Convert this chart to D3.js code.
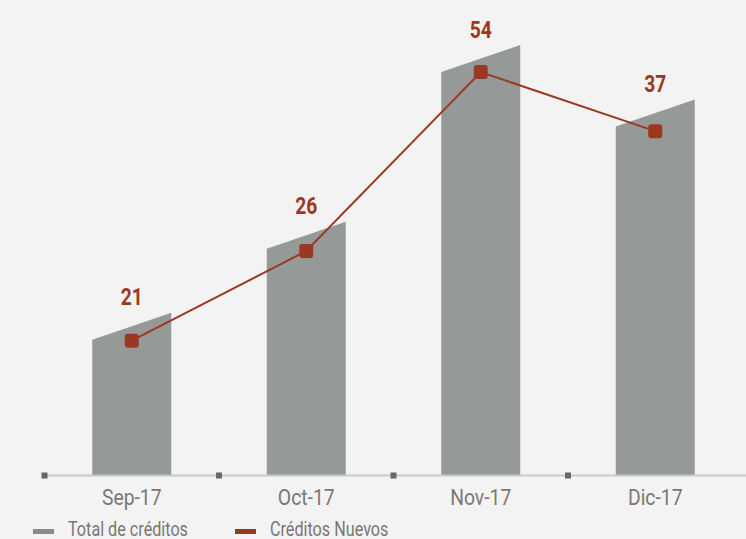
<!DOCTYPE html>
<html>
<head>
<meta charset="utf-8">
<script src="https://cdn.jsdelivr.net/npm/d3@7"></script>
<style>
  html, body { margin: 0; padding: 0; background: #f3f3f3; }
  svg { display: block; }
  text { font-family: "Roboto", "Liberation Sans", sans-serif; }
</style>
</head>
<body>
<div id="chart"></div>
<script>

var meses = ["Sep-17", "Oct-17", "Nov-17", "Dic-17"];
var totalCreditos = [35, 56.4, 98, 85.2];
var creditosNuevos = [31.6, 52.7, 94.8, 80.9];
var etiquetas = [21, 26, 54, 37];
var leyenda = ["Total de créditos", "Créditos Nuevos"];

var width = 746, height = 539;
var grisBarra = "#959a99", rojo = "#9b3822", grisTexto = "#7b7674";
var condensado = 0.86; // el original usa una fuente condensada

var svg = d3.select("#chart")
  .append("svg")
  .attr("width", width)
  .attr("height", height);

var x = d3.scaleBand()
  .domain(meses)
  .range([44.5, 742.5]);

var y = d3.scaleLinear()
  .domain([0, 100])
  .range([475, 50]);

var barW = 79, slant = 13.5;

function centro(d) { return x(d) + x.bandwidth() / 2; }

// barras con la parte de arriba inclinada
svg.selectAll(".bar")
  .data(meses)
  .enter().append("path")
  .attr("class", "bar")
  .attr("fill", grisBarra)
  .attr("d", function(d, i) {
    var cx = centro(d);
    var x0 = cx - barW / 2, x1 = cx + barW / 2;
    var top = y(totalCreditos[i]);
    return "M" + x0 + "," + y(0) +
      "L" + x0 + "," + (top + slant) +
      "L" + x1 + "," + (top - slant) +
      "L" + x1 + "," + y(0) + "Z";
  });

// eje
svg.append("line")
  .attr("x1", 44).attr("x2", width)
  .attr("y1", y(0) + 0.5).attr("y2", y(0) + 0.5)
  .attr("stroke", "#c9c9c9")
  .attr("stroke-width", 2);

svg.selectAll(".tick")
  .data(meses)
  .enter().append("rect")
  .attr("class", "tick")
  .attr("x", function(d) { return x(d) - 3; })
  .attr("y", y(0) - 2.5)
  .attr("width", 6).attr("height", 6)
  .attr("fill", "#666");

svg.selectAll(".mes")
  .data(meses)
  .enter().append("text")
  .attr("class", "mes")
  .attr("transform", function(d) { return "translate(" + centro(d) + ",505) scale(" + condensado + ",1)"; })
  .attr("text-anchor", "middle")
  .attr("font-size", 22.5)
  .attr("fill", grisTexto)
  .text(function(d) { return d; });

// linea de creditos nuevos
var line = d3.line()
  .x(function(d, i) { return centro(meses[i]); })
  .y(function(d) { return y(d); });

svg.append("path")
  .datum(creditosNuevos)
  .attr("fill", "none")
  .attr("stroke", rojo)
  .attr("stroke-width", 2)
  .attr("d", line);

svg.selectAll(".marker")
  .data(creditosNuevos)
  .enter().append("rect")
  .attr("class", "marker")
  .attr("x", function(d, i) { return centro(meses[i]) - 7; })
  .attr("y", function(d) { return y(d) - 7; })
  .attr("width", 14).attr("height", 14)
  .attr("rx", 3)
  .attr("fill", rojo);

svg.selectAll(".etiqueta")
  .data(etiquetas)
  .enter().append("text")
  .attr("class", "etiqueta")
  .attr("transform", function(d, i) {
    return "translate(" + centro(meses[i]) + "," + (y(totalCreditos[i]) - 21) + ") scale(0.8,1)";
  })
  .attr("text-anchor", "middle")
  .attr("font-size", 24)
  .attr("font-weight", "bold")
  .attr("fill", rojo)
  .text(function(d) { return d; });

// leyenda
var leg = svg.selectAll(".leg")
  .data(leyenda)
  .enter().append("g")
  .attr("class", "leg")
  .attr("transform", function(d, i) { return "translate(" + (33 + i * 202) + ",0)"; });

leg.append("rect")
  .attr("y", 529)
  .attr("width", 21).attr("height", 5)
  .attr("fill", function(d, i) { return i == 0 ? "#8a8c8c" : rojo; });

leg.append("text")
  .attr("transform", "translate(35,536) scale(0.83,1)")
  .attr("font-size", 19.5)
  .attr("fill", grisTexto)
  .text(function(d) { return d; });

</script>
</body>
</html>
